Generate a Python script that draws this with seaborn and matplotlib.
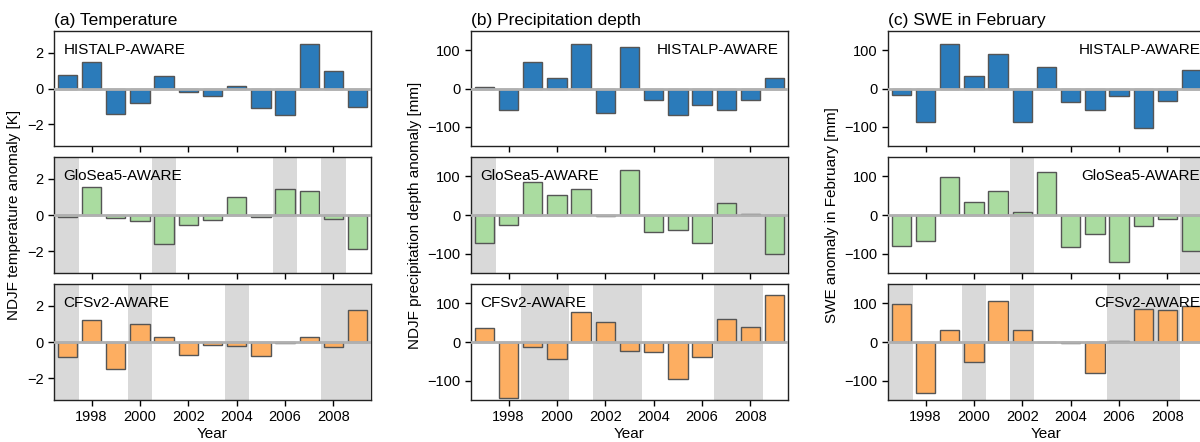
import matplotlib
matplotlib.use("Agg")
import matplotlib.pyplot as plt
import seaborn as sns

sns.set_theme(style="ticks")
plt.rcParams['font.family'] = ['Liberation Sans', 'DejaVu Sans']
plt.rcParams['text.color'] = 'black'
plt.rcParams['axes.labelcolor'] = 'black'
plt.rcParams['xtick.color'] = 'black'
plt.rcParams['ytick.color'] = 'black'

years = list(range(1997, 2010))
sources = ['HISTALP-AWARE', 'GloSea5-AWARE', 'CFSv2-AWARE']
colors = ['#2b7bba', '#aadca0', '#fdae61']

temp = {
    'HISTALP-AWARE': [0.75, 1.5, -1.4, -0.8, 0.7, -0.2, -0.4, 0.15, -1.1, -1.5, 2.5, 0.95, -1.05],
    'GloSea5-AWARE': [-0.1, 1.55, -0.15, -0.35, -1.6, -0.55, -0.3, 1.0, -0.1, 1.45, 1.3, -0.2, -1.85],
    'CFSv2-AWARE': [-0.8, 1.2, -1.5, 1.0, 0.25, -0.7, -0.15, -0.2, -0.75, -0.05, 0.25, -0.3, 1.75],
}
precip = {
    'HISTALP-AWARE': [3, -55, 70, 27, 115, -65, 108, -30, -70, -43, -55, -30, 28],
    'GloSea5-AWARE': [-73, -25, 85, 53, 67, -3, 117, -43, -40, -72, 32, 2, -100],
    'CFSv2-AWARE': [36, -145, -12, -45, 77, 51, -22, -27, -96, -39, 60, 38, 122],
}
swe = {
    'HISTALP-AWARE': [-18, -88, 115, 32, 90, -88, 57, -35, -55, -20, -103, -33, 47],
    'GloSea5-AWARE': [-80, -68, 98, 33, 63, 7, 112, -83, -48, -122, -28, -10, -92],
    'CFSv2-AWARE': [97, -133, 32, -53, 107, 32, 1, -3, -81, 3, 85, 84, 92],
}
# years shaded grey in each panel
shade_temp = {'HISTALP-AWARE': [], 'GloSea5-AWARE': [1997, 2001, 2006, 2008],
              'CFSv2-AWARE': [1997, 2000, 2004, 2008, 2009]}
shade_precip = {'HISTALP-AWARE': [], 'GloSea5-AWARE': [1997, 2007, 2008, 2009],
                'CFSv2-AWARE': [1999, 2000, 2002, 2003, 2007, 2008]}
shade_swe = {'HISTALP-AWARE': [], 'GloSea5-AWARE': [2002, 2009],
             'CFSv2-AWARE': [1997, 2000, 2002, 2006, 2007, 2008]}

columns = [
    ('(a) Temperature', temp, shade_temp, 'NDJF temperature anomaly [K]', (-3.2, 3.2), [-2, 0, 2]),
    ('(b) Precipitation depth', precip, shade_precip, 'NDJF precipitation depth anomaly [mm]', (-150, 150), [-100, 0, 100]),
    ('(c) SWE in February', swe, shade_swe, 'SWE anomaly in February [mm]', (-150, 150), [-100, 0, 100]),
]
# which panels have the source label on the left
left_label = {(0, 0), (0, 1), (0, 2), (1, 1), (1, 2)}

W, H = 1200, 442
fig = plt.figure(figsize=(12, 4.42), dpi=100)
lefts = [54, 471, 888]
rows = [(31, 146), (157, 273), (284, 400)]
aw = 317

for c, (title, data, shade, ylabel, ylim, yticks) in enumerate(columns):
    for r, src in enumerate(sources):
        top, bot = rows[r]
        ax = fig.add_axes([lefts[c] / W, 1 - bot / H, aw / W, (bot - top) / H])
        for y in shade[src]:
            ax.axvspan(y - 0.5, y + 0.5, color='#d9d9d9', lw=0, zorder=0)
        ax.bar(years, data[src], width=0.8, color=colors[r], edgecolor='#555555',
               linewidth=1.0, zorder=2)
        ax.axhline(0, color='#b0b0b0', lw=2, zorder=3)
        ax.set_xlim(1996.45, 2009.55)
        ax.set_ylim(*ylim)
        ax.set_yticks(yticks)
        ax.set_xticks(range(1998, 2009, 2))
        ax.tick_params(labelsize=10.5, length=4, width=1)
        for s in ax.spines.values():
            s.set_linewidth(1)
            s.set_color('#222222')
        if r < 2:
            ax.set_xticklabels([])
        else:
            ax.set_xlabel('Year', fontsize=11, labelpad=2)
        if r == 0:
            ax.set_title(title, loc='left', fontsize=12.5, pad=4)
        if r == 1:
            ax.set_ylabel(ylabel, fontsize=11)
        if (c, r) in left_label:
            ax.text(0.03, 0.9, src, transform=ax.transAxes, ha='left', va='top', fontsize=11)
        else:
            x = 0.97 if c == 1 else 0.985
            ax.text(x, 0.9, src, transform=ax.transAxes, ha='right', va='top', fontsize=11)

fig.savefig('out.png', dpi=100)
